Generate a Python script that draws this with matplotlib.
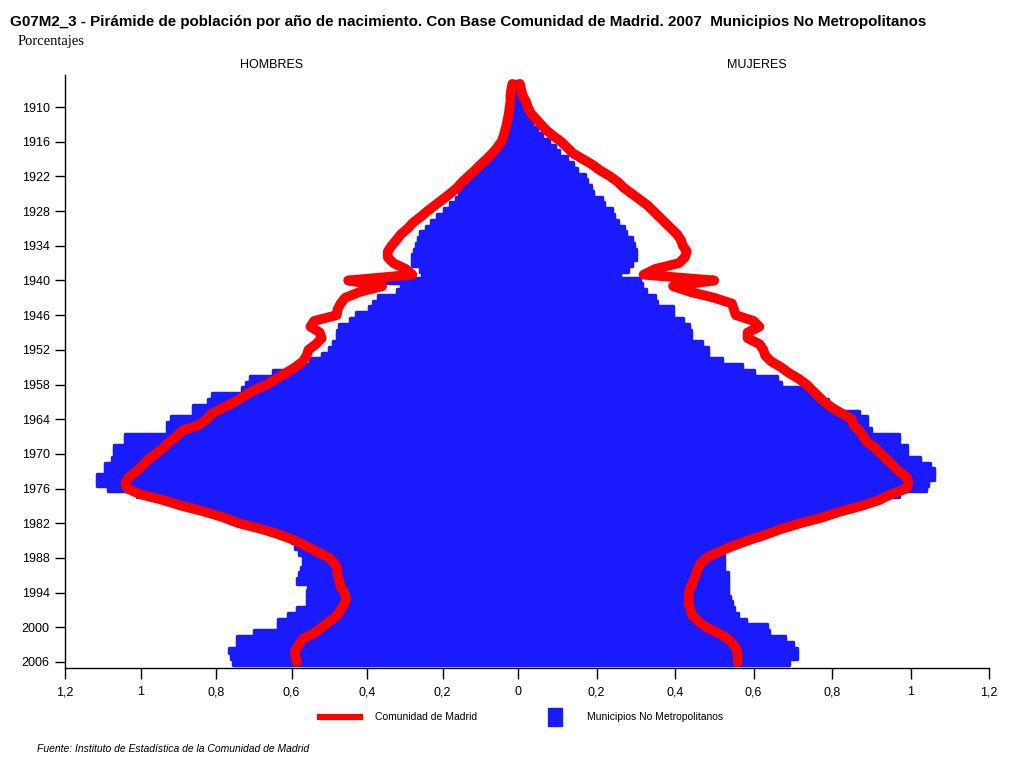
import matplotlib
matplotlib.use("Agg")
import matplotlib.pyplot as plt
from matplotlib.lines import Line2D
from matplotlib.patches import Rectangle

# birth years (population 2007)
years = list(range(1906, 2007))

# Comunidad de Madrid - hombres (%)
madrid_h = [0.015, 0.018, 0.02, 0.02, 0.022, 0.024, 0.027, 0.03, 0.034, 0.038,
            0.044, 0.055, 0.068, 0.083, 0.1, 0.115, 0.132, 0.148, 0.162, 0.18,
            0.2, 0.22, 0.24, 0.258, 0.278, 0.292, 0.31, 0.322, 0.335, 0.345,
            0.345, 0.33, 0.298, 0.28, 0.45, 0.36, 0.42, 0.458, 0.47, 0.478,
            0.48, 0.54, 0.55, 0.525, 0.52, 0.535, 0.555, 0.56, 0.57, 0.59,
            0.615, 0.64, 0.665, 0.7, 0.725, 0.75, 0.78, 0.81, 0.825, 0.845,
            0.89, 0.905, 0.925, 0.94, 0.96, 0.98, 0.995, 1.01, 1.03, 1.04,
            1.035, 1.0, 0.94, 0.89, 0.83, 0.78, 0.74, 0.68, 0.63, 0.59,
            0.56, 0.53, 0.5, 0.485, 0.478, 0.478, 0.473, 0.47, 0.46, 0.455,
            0.46, 0.47, 0.48, 0.5, 0.52, 0.54, 0.57, 0.58, 0.59, 0.59,
            0.585]

# Comunidad de Madrid - mujeres (%)
madrid_m = [0.005, 0.008, 0.012, 0.02, 0.025, 0.032, 0.045, 0.058, 0.072, 0.09,
            0.11, 0.125, 0.14, 0.165, 0.19, 0.21, 0.235, 0.255, 0.27, 0.29,
            0.31, 0.33, 0.345, 0.36, 0.375, 0.39, 0.405, 0.415, 0.42, 0.43,
            0.425, 0.41, 0.35, 0.32, 0.5, 0.395, 0.44, 0.5, 0.545, 0.55,
            0.555, 0.6, 0.615, 0.585, 0.585, 0.615, 0.625, 0.63, 0.645, 0.67,
            0.69, 0.715, 0.735, 0.75, 0.765, 0.78, 0.8, 0.825, 0.85, 0.855,
            0.87, 0.88, 0.89, 0.91, 0.925, 0.94, 0.955, 0.97, 0.99, 0.995,
            0.99, 0.95, 0.92, 0.875, 0.82, 0.775, 0.72, 0.67, 0.63, 0.585,
            0.545, 0.51, 0.48, 0.465, 0.458, 0.452, 0.447, 0.44, 0.435, 0.435,
            0.435, 0.44, 0.445, 0.46, 0.48, 0.51, 0.535, 0.55, 0.558, 0.56,
            0.56]

# Municipios No Metropolitanos - hombres (%)
nometro_h = [0.01, 0.012, 0.013, 0.014, 0.015, 0.017, 0.02, 0.022, 0.025, 0.03,
             0.035, 0.045, 0.055, 0.07, 0.085, 0.1, 0.115, 0.13, 0.145, 0.155,
             0.165, 0.18, 0.195, 0.215, 0.23, 0.245, 0.26, 0.265, 0.27, 0.275,
             0.28, 0.28, 0.26, 0.255, 0.35, 0.31, 0.32, 0.37, 0.385, 0.395,
             0.43, 0.445, 0.475, 0.48, 0.48, 0.49, 0.5, 0.52, 0.55, 0.59,
             0.65, 0.71, 0.72, 0.73, 0.81, 0.82, 0.86, 0.86, 0.92, 0.93,
             0.93, 1.04, 1.04, 1.07, 1.07, 1.075, 1.095, 1.095, 1.115, 1.115,
             1.085, 1.01, 0.94, 0.87, 0.81, 0.76, 0.72, 0.67, 0.63, 0.6,
             0.59, 0.58, 0.57, 0.57, 0.575, 0.58, 0.585, 0.555, 0.56, 0.56,
             0.56, 0.585, 0.61, 0.635, 0.635, 0.7, 0.745, 0.745, 0.765, 0.76,
             0.755]

# Municipios No Metropolitanos - mujeres (%)
nometro_m = [0.005, 0.006, 0.008, 0.01, 0.013, 0.018, 0.025, 0.035, 0.048, 0.062,
             0.078, 0.095, 0.105, 0.125, 0.14, 0.15, 0.17, 0.175, 0.185, 0.19,
             0.215, 0.22, 0.24, 0.245, 0.255, 0.27, 0.275, 0.29, 0.295, 0.3,
             0.3, 0.29, 0.28, 0.26, 0.31, 0.315, 0.325, 0.35, 0.355, 0.395,
             0.395, 0.42, 0.435, 0.44, 0.44, 0.47, 0.485, 0.485, 0.52, 0.57,
             0.6, 0.66, 0.67, 0.74, 0.75, 0.79, 0.8, 0.87, 0.89, 0.89,
             0.9, 0.97, 0.97, 0.99, 0.99, 1.025, 1.05, 1.06, 1.06, 1.045,
             1.04, 0.97, 0.9, 0.85, 0.78, 0.74, 0.69, 0.64, 0.6, 0.57,
             0.54, 0.52, 0.525, 0.525, 0.525, 0.535, 0.535, 0.535, 0.535, 0.54,
             0.545, 0.55, 0.56, 0.58, 0.635, 0.64, 0.68, 0.7, 0.71, 0.71,
             0.69]

year_ticks = list(range(1910, 2007, 6))
x_ticks = [0, 0.2, 0.4, 0.6, 0.8, 1.0, 1.2]
x_labels = ['0', '0,2', '0,4', '0,6', '0,8', '1', '1,2']

BLUE = '#1a1aff'
RED = '#ff0000'
SANS = ['Liberation Sans', 'DejaVu Sans']

plt.rcParams['font.family'] = SANS

fig = plt.figure(figsize=(10.24, 7.68), dpi=100)
W, H = 1024.0, 768.0
bottom = 1 - 668 / H
height = (668 - 75) / H
axL = fig.add_axes([65 / W, bottom, (518 - 65) / W, height])
axR = fig.add_axes([518 / W, bottom, (989 - 518) / W, height])

for ax, blue, red in [(axL, nometro_h, madrid_h), (axR, nometro_m, madrid_m)]:
    bars = ax.barh(years, blue, height=1.0, color=BLUE, edgecolor=BLUE,
                   linewidth=2.5, zorder=2)
    for b in bars:
        b.set_joinstyle('round')
    ax.plot(red, years, color=RED, lw=7, solid_joinstyle='round',
            solid_capstyle='round', zorder=3, clip_on=False)
    ax.set_ylim(2007.04, 1904.46)
    ax.set_xticks(x_ticks)
    ax.set_xticklabels(x_labels, fontsize=9)
    ax.tick_params(axis='x', direction='out', length=8, width=1, pad=5)
    for s in ['top', 'right']:
        ax.spines[s].set_visible(False)
    ax.spines['bottom'].set_linewidth(1)

axL.set_xlim(1.2, 0)
axR.set_xlim(0, 1.2)

axL.set_yticks(year_ticks)
axL.set_yticklabels([str(y) for y in year_ticks], fontsize=9)
axL.tick_params(axis='y', direction='out', length=7, width=1, pad=4)
axL.spines['left'].set_linewidth(1)
axR.spines['left'].set_visible(False)
axR.set_yticks([])
axR.set_xticks(x_ticks[1:])
axR.set_xticklabels(x_labels[1:], fontsize=9)

# titles and labels
fig.text(10 / W, 1 - 22 / H,
         'G07M2_3 - Pirámide de población por año de nacimiento. Con Base Comunidad de Madrid. 2007  Municipios No Metropolitanos',
         fontsize=10.9, fontweight='bold', va='center', ha='left')
fig.text(18 / W, 1 - 42 / H, 'Porcentajes', fontsize=10.5,
         family=['Liberation Serif', 'DejaVu Serif'], va='center', ha='left')
fig.text(272 / W, 1 - 65 / H, 'HOMBRES', fontsize=9, va='center', ha='center')
fig.text(757 / W, 1 - 65 / H, 'MUJERES', fontsize=9, va='center', ha='center')

# legend
fig.add_artist(Line2D([320 / W, 360 / W], [1 - 717 / H, 1 - 717 / H],
                      color=RED, lw=4.5))
fig.text(375 / W, 1 - 717 / H, 'Comunidad de Madrid', fontsize=7.5,
         va='center', ha='left')
fig.add_artist(Rectangle((548 / W, 1 - 726 / H), 14 / W, 18 / H,
                         color=BLUE, transform=fig.transFigure))
fig.text(587 / W, 1 - 717 / H, 'Municipios No Metropolitanos', fontsize=7.5,
         va='center', ha='left')

fig.text(37 / W, 1 - 749 / H,
         'Fuente: Instituto de Estadística de la Comunidad de Madrid',
         fontsize=7.5, style='italic', va='center', ha='left')

fig.savefig('out.png', dpi=100)
